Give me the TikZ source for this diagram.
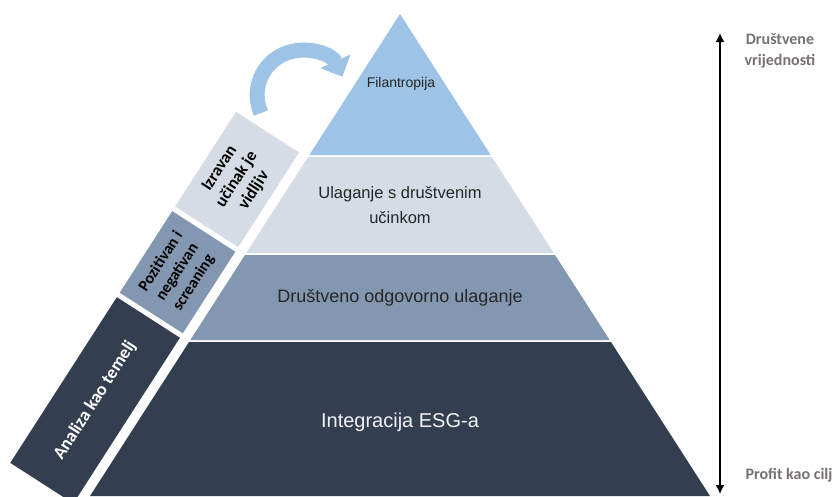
\documentclass[tikz,border=0pt]{standalone}
\usepackage{fontspec}
\setmainfont{Liberation Sans}
\newfontfamily\calib{Carlito}
\usetikzlibrary{arrows.meta}
\definecolor{lvlA}{HTML}{9DC3E6}
\definecolor{lvlB}{HTML}{D6DCE5}
\definecolor{lvlC}{HTML}{8497B0}
\definecolor{lvlD}{HTML}{333F50}
\definecolor{axgray}{HTML}{767171}

\begin{document}
\begin{tikzpicture}[x=1pt,y=-1pt,>={Latex[length=9pt,width=9pt]},
  band/.style={rotate=57.25,minimum height=75pt,inner sep=0pt,align=center,font=\calib\bfseries\fontsize{17}{20.5}\selectfont},
  lbl/.style={align=center,text=black!85},
  axlbl/.style={align=center,text=axgray,font=\calib\bfseries\fontsize{16}{21}\selectfont}]
  \useasboundingbox (0,0) rectangle (834,496);
  % layers of the pyramid
  \fill[lvlA] (400,14) -- (309.3,155) -- (490.7,155) -- cycle;
  \fill[lvlB] (308,157) -- (246.3,253) -- (553.7,253) -- (492,157) -- cycle;
  \fill[lvlC] (245,255) -- (190.3,340) -- (609.7,340) -- (555,255) -- cycle;
  \fill[lvlD] (189,342) -- (90,496) -- (710,496) -- (611,342) -- cycle;
  \node[lbl,font=\fontsize{14}{16}\selectfont] (fil) at (401,84) {Filantropija};
  \node[lbl,font=\fontsize{16.5}{25}\selectfont] (ulag) at (400,205) {Ulaganje s društvenim\\učinkom};
  \node[lbl,font=\fontsize{18}{22}\selectfont] (dou) at (400,298) {Društveno odgovorno ulaganje};
  \node[lbl,text=white!95!black,font=\fontsize{20}{24}\selectfont] (esg) at (400,422) {Integracija ESG-a};
  % side bands
  \node[band,fill=lvlD,text=white,minimum width=197pt,font=\calib\bfseries\fontsize{18}{21}\selectfont] (analiza) at (95.1,400.3) {Analiza kao temelj};
  \node[band,fill=lvlC,minimum width=97pt,font=\calib\bfseries\fontsize{16}{19.5}\selectfont] (pozit) at (177.5,272.2) {Pozitivan i\\negativan\\screaning};
  \node[band,fill=lvlB,minimum width=112.5pt] (izrav) at (237.1,179.5) {Izravan\\učinak je\\vidljiv};
  % curved arrow
  \coordinate (arcstart) at (261,113);
  \draw[lvlA,line width=15pt,-{Triangle[length=17pt,width=32pt]}] (arcstart) arc[start angle=156,end angle=336,radius=44.5];
  % axis
  \coordinate (vtop) at (720,33);
  \coordinate (vbot) at (720,494);
  \draw[<->,line width=1.5pt] (vtop) -- (vbot);
  \node[axlbl] (dv) at (780,51) {Društvene\\vrijednosti};
  \node[axlbl] (pc) at (789,475) {Profit kao cilj};
\end{tikzpicture}
\end{document}
